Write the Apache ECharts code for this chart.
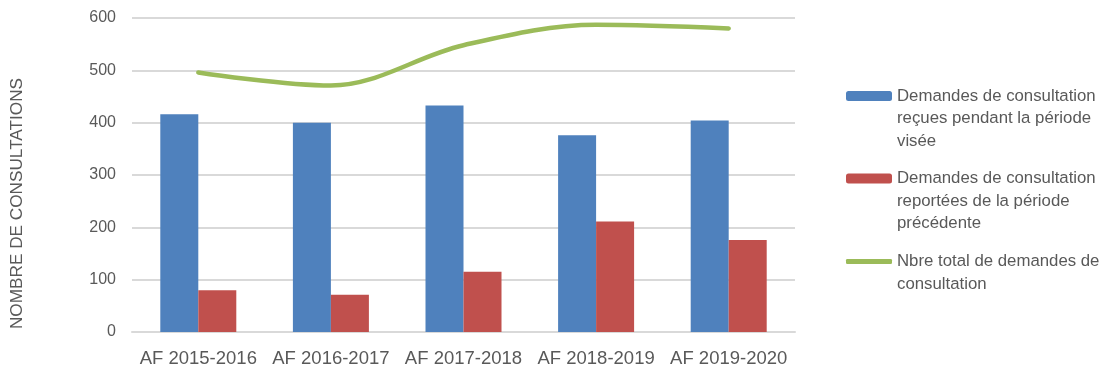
<!DOCTYPE html>
<html><head><meta charset="utf-8">
<script src="https://cdn.jsdelivr.net/npm/echarts@6/dist/echarts.min.js"></script>
<style>html,body{margin:0;padding:0;background:#fff}#c{width:1103px;height:380px}</style>
</head><body><div id="c"></div>
<script>
const categories = ['AF 2015-2016', 'AF 2016-2017', 'AF 2017-2018', 'AF 2018-2019', 'AF 2019-2020'];
const received = [416, 400, 433, 376, 404];
const carried = [80, 71, 115, 211, 176];
const total = [496, 471, 548, 587, 580];
const yTicks = [0, 100, 200, 300, 400, 500, 600];
const names = [
  'Demandes de consultation\nreçues pendant la période\nvisée',
  'Demandes de consultation\nreportées de la période\nprécédente',
  'Nbre total de demandes de\nconsultation'
];
const FONT = 'Liberation Sans';
const TXT = '#595959';
const LH = 22.5;
function legendFor(name, lines, iconCenter, itemHeight, icon) {
  const pre = '\n'.repeat(lines - 1);
  const half = (2 * lines - 1) * LH / 2;
  const item = icon ? { name: name, icon: icon } : name;
  return {
    data: [item], left: 846, top: iconCenter - half, padding: 0, orient: 'vertical',
    itemWidth: 46, itemHeight: itemHeight, itemGap: 0, selectedMode: false,
    formatter: function (n) { return pre + n; },
    textStyle: { fontFamily: FONT, fontSize: 16.8, color: TXT, lineHeight: LH }
  };
}
const chart = echarts.init(document.getElementById('c'));
chart.setOption({
  animation: false,
  grid: { left: 132, right: 308, top: 18, bottom: 48 },
  legend: [
    legendFor(names[0], 3, 96, 10),
    legendFor(names[1], 3, 178.5, 10),
    legendFor(names[2], 2, 261.5, 5, 'roundRect')
  ],
  xAxis: {
    type: 'category', data: categories,
    axisLine: { lineStyle: { color: '#D9D9D9', width: 2 } },
    axisTick: { show: false },
    axisLabel: { fontFamily: FONT, fontSize: 18.5, color: TXT, margin: 17, interval: 0, hideOverlap: false }
  },
  yAxis: {
    type: 'value', min: yTicks[0], max: yTicks[yTicks.length - 1], interval: 100,
    name: 'NOMBRE DE CONSULTATIONS', nameLocation: 'middle', nameGap: 106, nameRotate: 90,
    nameTextStyle: { fontFamily: FONT, fontSize: 17.2, color: TXT, padding: [0, 57, 0, 0] },
    axisLine: { show: false }, axisTick: { show: false },
    axisLabel: { fontFamily: FONT, fontSize: 16, color: TXT, margin: 16 },
    splitLine: { lineStyle: { color: '#D9D9D9', width: 2 } }
  },
  series: [
    { name: names[0], type: 'bar', data: received, barWidth: 38, barGap: '0%', itemStyle: { color: '#4F81BD' } },
    { name: names[1], type: 'bar', data: carried, barWidth: 38, itemStyle: { color: '#C0504D' } },
    { name: names[2], type: 'line', data: total, smooth: 0.35, symbol: 'none', lineStyle: { color: '#9BBB59', width: 4.5, cap: 'round' }, itemStyle: { color: '#9BBB59' } }
  ]
});
</script></body></html>
